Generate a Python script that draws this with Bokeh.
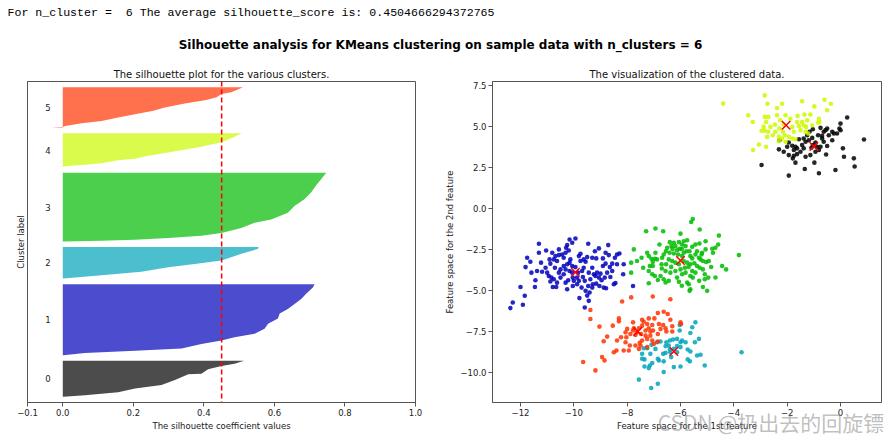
from bokeh.plotting import figure
from bokeh.layouts import column, row
from bokeh.models import Label, Span, FixedTicker, LinearAxis
from bokeh.embed import file_html
from bokeh.resources import INLINE
from bokeh.core.properties import value

# ---------------- data ----------------
n_clusters = 6
silhouette_avg = 0.4504666294372765
header_text = "For n_cluster = \u00a06 The average silhouette_score is: 0.4504666294372765"
suptitle_text = "Silhouette analysis for KMeans clustering on sample data with n_clusters = 6"
watermark_text = "CSDN @扔出去的回旋镖"

cluster_sizes = [64, 126, 56, 122, 60, 72]
# sorted silhouette values read at ranks inside each cluster
sil_ranks = [
    [0, 3, 8, 15, 21, 30, 40, 41, 49, 55, 59, 64],
    [0, 4, 8, 12, 20, 26, 32, 38, 47, 56, 65, 74, 82, 91, 100, 109, 120, 126],
    [0, 6, 12, 20, 26, 32, 36, 44, 50, 53, 56],
    [0, 1, 3, 6, 10, 15, 24, 33, 39, 51, 63, 75, 87, 100, 111, 122],
    [0, 1, 2, 4, 7, 12, 15, 20, 26, 32, 36, 44, 54, 60],
    [0, 1, 3, 8, 12, 18, 24, 30, 36, 43, 49, 54, 60, 63, 72],
]
sil_values = [
    [0.002, 0.063, 0.157, 0.205, 0.280, 0.318, 0.356, 0.393, 0.412, 0.450, 0.487, 0.514],
    [0.002, 0.063, 0.205, 0.337, 0.393, 0.450, 0.487, 0.544, 0.572, 0.582, 0.610, 0.615,
     0.638, 0.657, 0.676, 0.690, 0.709, 0.714],
    [0.002, 0.110, 0.223, 0.299, 0.374, 0.450, 0.469, 0.506, 0.539, 0.554, 0.555],
    [0.002, 0.110, 0.205, 0.299, 0.393, 0.450, 0.506, 0.544, 0.591, 0.638, 0.657, 0.685,
     0.704, 0.719, 0.733, 0.747],
    [-0.017, 0.002, 0.016, 0.063, 0.110, 0.157, 0.205, 0.242, 0.299, 0.356, 0.393, 0.450,
     0.487, 0.507],
    [-0.031, 0.0, 0.007, 0.054, 0.110, 0.157, 0.205, 0.257, 0.289, 0.346, 0.407, 0.436,
     0.450, 0.478, 0.511],
]

# nipy_spectral(i / 6)
cluster_colors = ["#000000", "#0000bb", "#00a4bb", "#00bb00", "#ccf900", "#ff3300"]

c0_x = [0.25, 0.00, -0.04, 0.00, -0.25, -0.13, -0.50, -0.56, -0.63, -0.75, -1.04, -1.16, -0.84,
        -0.69, -0.44, -0.31, 0.88, -1.25, -1.38, -1.31, -1.19, -1.06, -1.56, -1.94, -2.00, -1.81,
        -1.69, -1.75, -1.63, -2.31, -2.13, -1.94, -1.75, -1.63, -1.79, -1.69, -1.31, -1.13, -0.94,
        -0.88, -0.75, -0.50, -0.54, 0.09, 0.13, 0.50, 0.53, -0.19, -0.81, -0.98, -1.34, -1.94,
        -2.96, -2.29, -0.94, -1.04, -1.44, -0.63, -0.81, -1.09, -0.31, -0.69, -1.38, -1.50]
c0_y = [5.56, 5.19, 4.89, 4.79, 4.59, 4.59, 4.89, 4.79, 4.69, 4.93, 4.85, 4.69, 4.48, 4.44, 4.48,
        4.18, 4.22, 4.48, 4.28, 4.08, 4.18, 4.32, 4.24, 4.04, 3.78, 3.84, 3.78, 3.58, 3.68, 3.62,
        3.47, 3.27, 3.23, 3.33, 3.07, 2.81, 3.17, 3.27, 3.47, 3.78, 3.78, 3.82, 3.31, 3.68, 3.17,
        3.07, 2.57, 2.36, 2.16, 2.81, 2.42, 2.02, 2.67, 4.18, 4.04, 3.88, 3.88, 4.08, 3.58, 3.72,
        4.69, 4.28, 3.68, 3.47]

c1_x = [-10.16, -9.94, -10.06, -10.29, -10.19, -10.31, -10.44, -10.38, -10.56, -10.69, -10.75,
        -10.91, -11.04, -11.31, -11.31, -11.75, -11.63, -11.81, -11.59, -11.19, -11.00, -10.94,
        -10.84, -10.75, -10.63, -10.88, -10.79, -10.66, -11.44, -11.46, -12.00, -11.84, -11.91,
        -12.29, -12.38, -10.25, -10.31, -10.04, -9.88, -9.81, -9.66, -9.59, -9.46, -9.41, -9.56,
        -9.29, -9.16, -9.38, -9.25, -9.13, -9.00, -9.06, -8.88, -8.79, -8.96, -8.84, -8.63, -8.50,
        -8.44, -8.75, -8.65, -8.91, -8.81, -8.56, -8.38, -8.29, -8.69, -8.71, -9.06, -9.21, -9.46,
        -9.31, -9.16, -8.91, -8.46, -8.38, -8.13, -8.15, -7.78, -9.31, -9.63, -9.56, -9.75, -9.81,
        -9.94, -10.06, -10.16, -10.25, -10.38, -10.31, -10.06, -9.84, -9.88, -10.04, -10.50,
        -10.63, -10.71, -10.88, -9.75, -9.63, -9.50, -9.79, -9.59, -9.44, -10.16, -10.13, -10.81,
        -10.56, -10.25, -8.81, -8.56, -9.19, -9.44, -9.69, -10.56, -10.38, -10.50, -10.21, -10.00,
        -9.71, -9.31, -9.04, -11.23, -11.06, -11.38, -9.50]
c1_y = [-1.88, -1.82, -2.08, -2.38, -2.55, -2.69, -2.79, -2.99, -2.83, -2.89, -3.09, -3.09, -2.55,
        -2.69, -2.14, -2.99, -3.23, -3.56, -3.90, -3.84, -3.90, -4.10, -4.20, -4.30, -4.51, -4.44,
        -4.77, -4.77, -4.36, -4.77, -4.77, -5.31, -5.86, -5.72, -6.06, -4.91, -4.51, -4.71, -4.61,
        -4.40, -4.16, -4.40, -4.71, -5.11, -5.01, -4.61, -4.57, -4.30, -4.00, -3.90, -3.96, -4.20,
        -4.81, -4.85, -4.36, -4.20, -4.16, -4.61, -4.53, -3.90, -3.56, -3.49, -3.35, -3.35, -3.39,
        -2.73, -2.83, -2.22, -2.42, -2.59, -2.14, -2.99, -3.03, -3.03, -2.99, -2.79, -3.39, -4.00,
        -4.71, -3.60, -3.60, -3.23, -3.19, -2.89, -3.56, -3.49, -3.29, -3.39, -3.49, -3.70, -3.90,
        -3.90, -4.20, -4.20, -3.70, -3.19, -3.60, -3.35, -2.75, -3.09, -2.95, -5.45, -6.02, -5.62,
        -3.80, -3.09, -2.69, -2.48, -2.22, -2.69, -3.80, -4.10, -3.90, -3.80, -3.90, -4.00, -4.20,
        -4.36, -4.40, -4.81, -4.81, -4.71, -3.29, -3.60, -3.80, -5.30]

c2_x = [-5.44, -6.03, -5.56, -6.03, -5.63, -5.31, -5.46, -5.81, -5.94, -6.13, -6.28, -6.40, -6.53,
        -6.75, -6.88, -7.09, -7.25, -7.38, -7.44, -7.44, -7.35, -7.13, -6.85, -6.65, -6.56, -6.38,
        -6.25, -6.13, -6.00, -6.13, -6.35, -6.63, -6.81, -7.15, -7.35, -7.19, -6.63, -6.25, -6.00,
        -5.73, -5.63, -5.73, -5.65, -5.38, -5.25, -5.09, -3.71, -7.56, -7.10, -6.85, -6.56, -6.44,
        -6.00, -6.40, -6.94, -7.06]
c2_y = [-6.93, -7.09, -7.23, -7.43, -7.58, -7.94, -8.14, -8.14, -8.04, -7.94, -7.98, -8.04, -8.14,
        -8.10, -8.14, -8.30, -8.51, -8.51, -8.85, -9.15, -9.19, -8.85, -9.15, -8.85, -8.79, -8.75,
        -8.55, -8.38, -8.44, -8.75, -9.05, -9.31, -9.25, -9.56, -9.62, -9.72, -9.96, -9.66, -9.62,
        -8.59, -8.71, -9.19, -9.31, -8.95, -8.91, -9.56, -8.75, -10.42, -10.93, -10.67, -8.38,
        -8.34, -8.14, -8.59, -8.55, -9.41]

c3_x = [-5.54, -5.60, -7.29, -6.94, -6.65, -5.28, -6.00, -4.56, -6.79, -6.40, -6.25, -6.06, -5.88,
        -5.75, -5.94, -5.81, -6.19, -6.34, -6.50, -6.04, -6.13, -5.44, -5.56, -5.29, -5.06, -4.81,
        -4.69, -4.59, -4.78, -5.19, -7.75, -7.25, -7.19, -7.09, -6.96, -7.04, -7.46, -7.63, -7.85,
        -6.63, -6.41, -6.25, -6.44, -6.31, -6.19, -5.63, -5.78, -5.66, -5.88, -5.44, -5.31, -5.21,
        -5.16, -5.04, -4.94, -5.48, -5.63, -5.75, -5.88, -6.06, -6.71, -6.88, -6.54, -7.04, -7.19,
        -7.06, -6.96, -7.15, -6.38, -6.19, -6.00, -5.81, -5.56, -5.63, -5.54, -5.94, -5.38, -5.28,
        -5.16, -5.09, -5.09, -4.96, -4.69, -4.44, -4.29, -3.81, -6.44, -6.63, -6.75, -6.56, -6.06,
        -5.75, -5.69, -5.63, -5.66, -5.16, -5.00, -7.19, -7.85, -6.56, -5.44, -5.25, -5.94, -6.69,
        -6.94, -5.56, -6.09, -5.84, -6.13, -5.38, -5.06, -6.30, -5.95, -6.55, -5.70, -6.35, -6.70,
        -4.85, -5.30, -7.40, -6.85, -5.95]
c3_y = [-0.63, -0.81, -1.37, -1.21, -1.37, -1.27, -1.52, -1.64, -2.18, -2.04, -2.08, -2.04, -1.98,
        -1.92, -2.18, -2.28, -2.28, -2.28, -2.38, -2.44, -2.53, -2.18, -2.32, -2.12, -1.98, -2.44,
        -2.38, -2.18, -2.69, -2.69, -2.48, -2.69, -2.89, -3.05, -3.05, -3.25, -2.99, -3.19, -3.29,
        -2.79, -2.69, -2.73, -3.09, -3.19, -3.29, -2.89, -2.59, -2.59, -2.69, -2.79, -2.99, -2.79,
        -3.19, -3.25, -3.19, -3.33, -3.39, -3.29, -3.19, -3.39, -3.39, -3.09, -3.39, -3.49, -3.80,
        -4.00, -4.10, -3.49, -3.90, -3.80, -3.70, -3.90, -3.80, -4.10, -4.20, -4.00, -3.49, -3.60,
        -3.70, -4.00, -4.30, -4.20, -4.20, -3.49, -3.70, -2.83, -4.40, -4.30, -4.10, -4.50, -4.46,
        -4.50, -4.61, -4.91, -5.01, -4.77, -5.01, -4.55, -3.90, -3.80, -3.90, -3.09, -2.89, -2.99,
        -2.69, -3.03, -2.79, -3.60, -4.20, -2.59, -2.48, -2.45, -2.45, -2.60, -3.55, -3.55, -3.65,
        -3.55, -4.40, -3.60, -4.35, -4.70]

c4_x = [-2.84, -2.74, -2.19, -2.38, -1.44, -0.98, -0.60, -0.36, -0.50, -3.46, -3.29, -2.84, -2.71,
        -2.38, -2.06, -1.61, -1.35, -1.13, -0.81, -0.79, -2.79, -2.88, -2.96, -2.84, -2.71, -2.46,
        -2.29, -1.81, -1.56, -1.44, -1.38, -1.29, -1.50, -2.31, -2.19, -1.94, -1.81, -1.69, -2.09,
        -2.75, -3.06, -2.79, -3.28, -2.31, -2.54, -1.31, -1.21, -0.84, -2.26, -1.88, -2.06, -2.16,
        -2.44, -2.63, -1.25, -1.06, -1.75, -1.63, -2.13, -4.40]
c4_y = [6.91, 6.40, 6.40, 6.14, 6.55, 6.24, 6.65, 6.40, 6.00, 5.70, 5.29, 5.60, 5.60, 5.70, 5.70,
        5.66, 5.74, 5.74, 5.49, 5.29, 5.29, 4.99, 4.75, 4.75, 4.69, 5.13, 4.89, 4.99, 5.05, 5.29,
        5.09, 4.99, 4.79, 4.38, 4.28, 4.38, 4.28, 4.24, 4.48, 4.38, 3.92, 3.78, 3.58, 4.12, 4.48,
        4.69, 4.59, 5.25, 5.39, 5.49, 4.08, 4.69, 4.69, 4.99, 5.39, 5.09, 4.69, 5.29, 5.13, 6.41]

c5_x = [-7.85, -8.19, -7.04, -6.38, -9.38, -9.38, -9.04, -8.75, -8.88, -8.54, -8.31, -8.31, -7.78,
        -7.44, -7.38, -7.19, -6.98, -6.85, -6.63, -6.48, -6.38, -6.81, -7.06, -7.25, -7.44, -6.65,
        -6.56, -6.31, -6.00, -5.98, -6.31, -6.53, -6.85, -7.03, -7.19, -7.31, -7.56, -7.75, -8.00,
        -8.06, -7.88, -8.03, -7.69, -7.48, -7.31, -7.13, -7.25, -7.44, -7.53, -7.50, -7.69, -7.90,
        -7.94, -8.13, -8.40, -8.50, -8.38, -8.23, -8.06, -7.06, -7.00, -6.85, -7.25, -7.56, -8.94,
        -8.85, -9.65, -9.19, -7.78, -7.63, -7.13, -6.75]
c5_y = [-5.41, -5.66, -5.35, -5.52, -6.18, -6.73, -7.19, -7.80, -8.08, -7.13, -6.69, -6.87, -6.93,
        -6.77, -6.89, -6.69, -6.69, -6.36, -6.28, -6.42, -6.77, -7.03, -7.09, -7.03, -7.13, -7.09,
        -7.29, -7.17, -6.93, -7.03, -7.49, -7.49, -7.64, -7.43, -7.29, -7.43, -7.29, -7.29, -7.33,
        -7.54, -7.64, -7.84, -7.70, -7.64, -7.74, -7.74, -7.94, -8.04, -8.18, -8.34, -8.34, -8.34,
        -8.65, -8.65, -8.65, -8.75, -8.04, -7.84, -8.14, -8.04, -8.24, -8.10, -8.44, -8.55, -9.05,
        -9.25, -9.35, -9.86, -7.43, -7.54, -7.49, -7.33]

scatter_x = [c0_x, c1_x, c2_x, c3_x, c4_x, c5_x]
scatter_y = [c0_y, c1_y, c2_y, c3_y, c4_y, c5_y]

centers_x = [-1.00, -9.94, -6.25, -6.00, -2.04, -7.60]
centers_y = [3.80, -3.88, -8.71, -3.16, 5.09, -7.49]

sil_xticks = [-0.1, 0.0, 0.2, 0.4, 0.6, 0.8, 1.0]
sc_xticks = [-12, -10, -8, -6, -4, -2, 0]
sc_yticks = [-10.0, -7.5, -5.0, -2.5, 0.0, 2.5, 5.0, 7.5]

# ---------------- styling helpers ----------------
FONT = "DejaVu Sans"
AX = "#555555"


def fmt(v, dec):
    s = f"{abs(v):.{dec}f}"
    return ("\u2212" + s) if v < 0 else s


def style(p):
    p.background_fill_color = "white"
    p.border_fill_color = "white"
    p.outline_line_color = AX
    p.outline_line_width = 1
    p.grid.visible = False
    p.title.align = "center"
    p.title.text_font = FONT
    p.title.text_font_size = "10px"
    p.title.text_font_style = "normal"
    p.title.text_color = "#111111"
    p.title.standoff = 4
    for ax in p.axis:
        ax.major_label_text_font = FONT
        ax.major_label_text_font_size = "8.5px"
        ax.major_label_text_color = "#222222"
        ax.axis_label_text_font = FONT
        ax.axis_label_text_font_size = "8.5px"
        ax.axis_label_text_font_style = "normal"
        ax.axis_label_text_color = "#222222"
        ax.minor_tick_line_color = None
        ax.major_tick_out = 4
        ax.major_tick_in = 0
        ax.major_label_standoff = 2
        ax.axis_label_standoff = 2
        ax.axis_line_color = AX
        ax.major_tick_line_color = AX


PLOT_H = 381

# ---------------- header ----------------
hdr = figure(width=889, height=58, x_range=(0, 889), y_range=(58, 0),
             output_backend="svg", toolbar_location=None, min_border=0,
             x_axis_location=None, y_axis_location=None)
hdr.grid.visible = False
hdr.outline_line_color = None
hdr.add_layout(Label(x=7, y=12, text=header_text, text_font="Liberation Mono",
                     text_font_size="11.6px", text_baseline="middle", text_color="#000000"))
hdr.add_layout(Label(x=440, y=44, text=suptitle_text, text_font=FONT, text_font_size="12px",
                     text_font_style="bold", text_align="center", text_baseline="middle",
                     text_color="#000000"))

# ---------------- silhouette plot ----------------
n_total = sum(cluster_sizes)
p1 = figure(width=440, height=PLOT_H, x_range=(-0.1, 1.0),
            y_range=(0, n_total + (n_clusters + 1) * 10),
            output_backend="svg", toolbar_location=None,
            min_border_left=27, min_border_right=25, min_border_top=23, min_border_bottom=35,
            title="The silhouette plot for the various clusters.")
y_lower = 10
label_y = []
for i in range(n_clusters):
    size = cluster_sizes[i]
    xs = [0.0] + sil_values[i] + [0.0]
    ys = [y_lower] + [y_lower + r for r in sil_ranks[i]] + [y_lower + size]
    p1.patch(xs, ys, fill_color=cluster_colors[i], fill_alpha=0.7, line_color=None)
    label_y.append(y_lower + 0.5 * size)
    y_lower = y_lower + size + 10
p1.text(x=[-0.05] * n_clusters, y=label_y, text=[str(i) for i in range(n_clusters)],
        text_font=value(FONT), text_font_size="8.5px", text_baseline="middle",
        text_align="left", text_color="#222222")
p1.add_layout(Span(location=silhouette_avg, dimension="height", line_color="red",
                   line_dash="5 3", line_width=1.5))
p1.xaxis.axis_label = "The silhouette coefficient values"
p1.yaxis.axis_label = "Cluster label"
p1.xaxis.ticker = FixedTicker(ticks=sil_xticks)
p1.xaxis.major_label_overrides = {t: fmt(t, 1) for t in sil_xticks}
p1.yaxis.ticker = FixedTicker(ticks=[])
style(p1)

# ---------------- scatter plot ----------------
p2 = figure(width=449, height=PLOT_H, x_range=(-13.05, 1.537), y_range=(-11.818, 7.758),
            output_backend="svg", toolbar_location=None,
            min_border_left=52, min_border_right=8, min_border_top=23, min_border_bottom=35,
            title="The visualization of the clustered data.")
for i in range(n_clusters):
    p2.scatter(scatter_x[i], scatter_y[i], size=4.6, fill_color=cluster_colors[i],
               fill_alpha=0.85, line_color=None)
p2.scatter(centers_x, centers_y, marker="x", size=12, line_color="red", line_width=1.5)
p2.xaxis.axis_label = "Feature space for the 1st feature"
p2.yaxis.axis_label = "Feature space for the 2nd feature"
p2.xaxis.ticker = FixedTicker(ticks=sc_xticks)
p2.xaxis.major_label_overrides = {t: fmt(t, 0) for t in sc_xticks}
p2.yaxis.ticker = FixedTicker(ticks=sc_yticks)
p2.yaxis.major_label_overrides = {t: fmt(t, 1) for t in sc_yticks}
style(p2)

# watermark: an extra, tick-less axis whose label is pulled up over the axis area;
# leading ideographic spaces push the visible text right of the frame centre
wm = LinearAxis(ticker=FixedTicker(ticks=[]), axis_label="\u3000" * 8 + watermark_text,
                axis_label_text_font="Noto Sans CJK SC", axis_label_text_font_size="21px",
                axis_label_text_font_style="normal", axis_label_text_color="#8a8a8a",
                axis_label_text_alpha=0.55, axis_label_standoff=-27,
                axis_line_color=None, major_tick_line_color=None, minor_tick_line_color=None,
                major_tick_out=0, major_tick_in=0, major_label_standoff=0)
p2.add_layout(wm, "below")

layout = column(hdr, row(p1, p2, spacing=0), spacing=0)
open("out.html", "w").write(file_html(layout, INLINE))
